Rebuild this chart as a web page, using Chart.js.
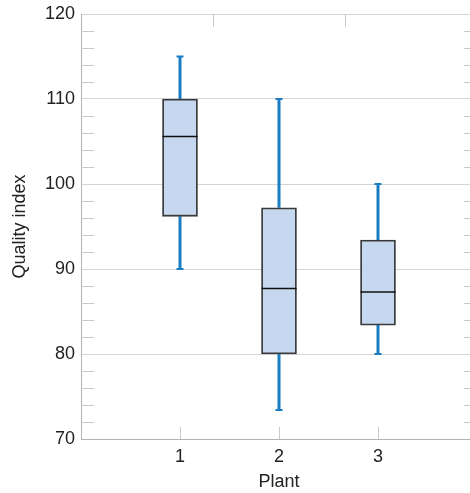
<!DOCTYPE html>
<html><head><meta charset="utf-8">
<script src="https://cdn.jsdelivr.net/npm/chart.js@4/dist/chart.umd.min.js"></script>
<style>
html,body{margin:0;padding:0;overflow:hidden;background:#fff;width:470px;height:493px}
#wrap{width:477px;height:493px}
canvas{display:block}
</style></head>
<body><div id="wrap"><canvas id="c" width="477" height="493"></canvas></div>
<script>
const plants = [1, 2, 3];
const xTickLabels = ['1', '2', '3'];
const whiskerLow = [90, 73.4, 80];
const q1 = [96.2, 80, 83.4];
const median = [105.6, 87.7, 87.3];
const q3 = [110, 97.2, 93.4];
const whiskerHigh = [115, 110, 100];
const yTicks = [70, 80, 90, 100, 110, 120];
const yMinorStep = 2;

const FONT = 'Liberation Sans, Arial, sans-serif';
const TXT = '#222222';
const X_MIN = 0, X_MAX = 4;

const boxExtras = {
  id: 'boxExtras',
  beforeDatasetsDraw(chart) {
    const {ctx, chartArea: a} = chart;
    const x = chart.scales.x, y = chart.scales.y;
    ctx.save();
    ctx.strokeStyle = '#c9c9c9';
    ctx.lineWidth = 1;
    ctx.beginPath();
    for (let v = y.min + yMinorStep; v < y.max; v += yMinorStep) {
      if (yTicks.includes(v)) continue;
      const py = Math.round(y.getPixelForValue(v)) + 0.5;
      ctx.moveTo(a.left, py); ctx.lineTo(a.left + 13, py);
      ctx.moveTo(a.right - 13, py); ctx.lineTo(a.right, py);
    }
    plants.forEach(p => {
      const px = Math.round(x.getPixelForValue(p)) + 0.5;
      ctx.moveTo(px, a.bottom); ctx.lineTo(px, a.bottom - 12);
    });
    for (let k = 1; k < 3; k++) {
      const px = Math.round(x.getPixelForValue(X_MAX * k / 3)) + 0.5;
      ctx.moveTo(px, a.top); ctx.lineTo(px, a.top + 13);
    }
    ctx.stroke();

    ctx.strokeStyle = '#1a7cc1';
    plants.forEach((p, i) => {
      const px = x.getPixelForValue(p);
      ctx.lineWidth = 3;
      ctx.beginPath();
      ctx.moveTo(px, y.getPixelForValue(whiskerHigh[i]));
      ctx.lineTo(px, y.getPixelForValue(q3[i]));
      ctx.moveTo(px, y.getPixelForValue(q1[i]));
      ctx.lineTo(px, y.getPixelForValue(whiskerLow[i]));
      ctx.stroke();
      ctx.lineWidth = 2;
      ctx.beginPath();
      [whiskerHigh[i], whiskerLow[i]].forEach(v => {
        const py = y.getPixelForValue(v);
        ctx.moveTo(px - 3.5, py); ctx.lineTo(px + 3.5, py);
      });
      ctx.stroke();
    });
    ctx.restore();
  },
  afterDatasetsDraw(chart) {
    const {ctx} = chart;
    const x = chart.scales.x, y = chart.scales.y;
    const meta = chart.getDatasetMeta(0);
    ctx.save();
    ctx.strokeStyle = '#111111';
    ctx.lineWidth = 1.5;
    ctx.beginPath();
    plants.forEach((p, i) => {
      const bar = meta.data[i];
      const half = bar.width / 2;
      const px = x.getPixelForValue(p);
      const py = y.getPixelForValue(median[i]);
      ctx.moveTo(px - half, py); ctx.lineTo(px + half, py);
    });
    ctx.stroke();
    ctx.restore();
  }
};

new Chart(document.getElementById('c'), {
  type: 'bar',
  data: {
    datasets: [{
      data: plants.map((p, i) => ({x: p, y: [q1[i], q3[i]]})),
      backgroundColor: '#c6d8ef',
      borderColor: '#3a3a3a',
      borderWidth: 1.8,
      borderSkipped: false,
      barThickness: 35
    }]
  },
  options: {
    responsive: false,
    animation: false,
    devicePixelRatio: 1,
    layout: {padding: {top: 14, right: 0, left: 0, bottom: 0}},
    plugins: {legend: {display: false}, tooltip: {enabled: false}},
    scales: {
      x: {
        type: 'linear',
        min: X_MIN, max: X_MAX,
        offset: false,
        afterBuildTicks: s => { s.ticks = plants.map(v => ({value: v})); },
        ticks: {
          callback: (v, i) => xTickLabels[i],
          padding: 7, color: TXT, font: {family: FONT, size: 18}
        },
        grid: {display: true, drawOnChartArea: false, drawTicks: false, offset: false},
        border: {color: '#b3b3b3', width: 1},
        title: {display: true, text: 'Plant', color: TXT, font: {family: FONT, size: 18}, padding: {top: 0, bottom: 0}},
        afterFit: s => { s.height = 54; }
      },
      y: {
        min: 70, max: 120,
        afterBuildTicks: s => { s.ticks = yTicks.map(v => ({value: v})); },
        ticks: {padding: 6, color: TXT, font: {family: FONT, size: 18}},
        grid: {color: '#d4d4d4', drawTicks: false},
        border: {color: '#b3b3b3', width: 1},
        title: {display: true, text: 'Quality index', color: TXT, font: {family: FONT, size: 18}, padding: {top: 9, bottom: 0}},
        afterFit: s => { s.width = 81; s.paddingTop = 0; s.paddingBottom = 0; }
      }
    }
  },
  plugins: [boxExtras]
});
</script>
</body></html>
